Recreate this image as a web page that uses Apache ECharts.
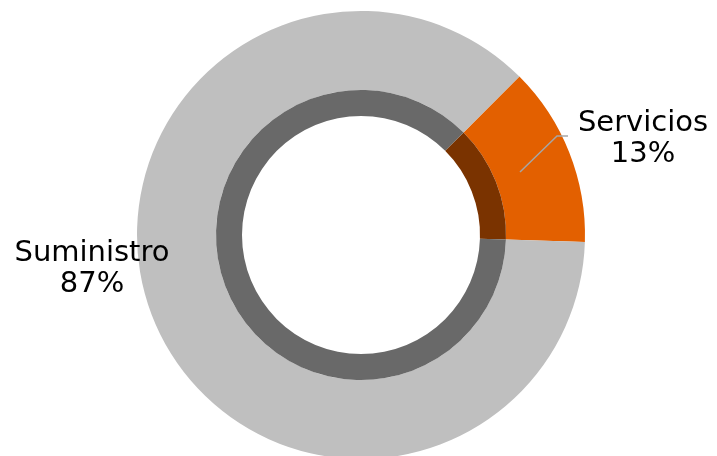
<!DOCTYPE html>
<html>
<head>
<meta charset="utf-8">
<script src="https://cdn.jsdelivr.net/npm/echarts@6/dist/echarts.min.js"></script>
<style>
html,body{margin:0;padding:0;background:#fff;}
#c{width:717px;height:456px;}
</style>
</head>
<body>
<div id="c"></div>
<script>
const categories = ['Servicios', 'Suministro'];
const values = [13, 87];
const outerColors = ['#E36000', '#BFBFBF'];
const innerColors = ['#7A3300', '#696969'];

const chart = echarts.init(document.getElementById('c'), null, {renderer: 'canvas'});

const outerData = categories.map((n, i) => ({
  name: n, value: values[i],
  itemStyle: {color: outerColors[i]}
}));
const innerData = categories.map((n, i) => ({
  name: n, value: values[i],
  itemStyle: {color: innerColors[i]}
}));
const labelData = categories.map((n, i) => ({
  name: n, value: values[i],
  itemStyle: {color: 'rgba(0,0,0,0)'},
  labelLine: {show: i === 0}
}));

// label positions (layout, not data)
const labelPos = [
  {x: 643, y: 139, line: [[520, 172], [557, 136], [568, 136]]},
  {x: 92, y: 269, line: null}
];

chart.setOption({
  animation: false,
  backgroundColor: '#fff',
  series: [
    {
      type: 'pie',
      center: [361, 235],
      radius: [145, 224],
      startAngle: 45,
      clockwise: true,
      silent: true,
      data: outerData,
      label: {show: false},
      labelLine: {show: false}
    },
    {
      type: 'pie',
      center: [361, 235],
      radius: [119, 145],
      startAngle: 45,
      clockwise: true,
      silent: true,
      data: innerData,
      label: {show: false},
      labelLine: {show: false}
    },
    {
      type: 'pie',
      z: 5,
      center: [361, 235],
      radius: [145, 224],
      startAngle: 45,
      clockwise: true,
      silent: true,
      data: labelData,
      label: {
        show: true,
        formatter: '{b}\n{d}%',
        fontFamily: 'DejaVu Sans',
        fontSize: 29,
        lineHeight: 31,
        color: '#000',
        align: 'center',
        overflow: 'none'
      },
      labelLine: {
        show: true,
        lineStyle: {color: '#A6A6A6', width: 1.5}
      },
      labelLayout: function (p) {
        const lp = labelPos[p.dataIndex];
        const r = {x: lp.x, y: lp.y, align: 'center', verticalAlign: 'middle'};
        if (lp.line) r.labelLinePoints = lp.line;
        return r;
      }
    }
  ]
});
</script>
</body>
</html>
